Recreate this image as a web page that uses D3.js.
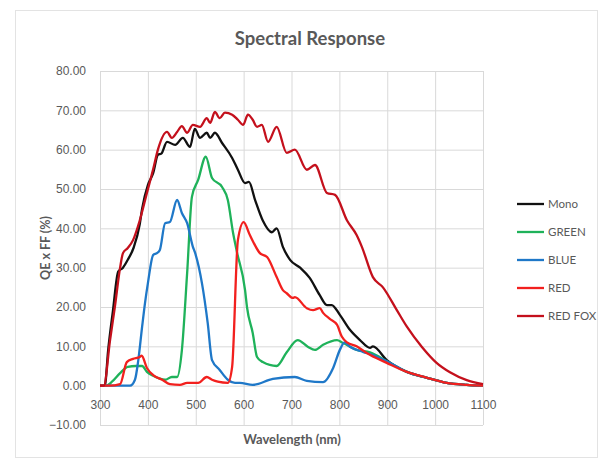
<!DOCTYPE html>
<html>
<head>
<meta charset="utf-8">
<script src="https://cdn.jsdelivr.net/npm/d3@7"></script>
<style>
  body { margin: 0; background: #fff; }
  svg { font-family: Lato, "Open Sans", sans-serif; }
</style>
</head>
<body>
<div class="chart"></div>
<script>
// Series data (wavelength nm / QE x FF %)
const monoNm = [300, 310, 317, 327, 338, 348, 358, 370, 383, 388, 400, 411, 421, 428, 440, 457, 473, 488, 498, 509, 523, 530, 540, 555, 576, 588, 603, 611, 624, 640, 659, 669, 682, 697, 718, 738, 759, 774, 784, 801, 822, 843, 864, 870, 899, 941, 983, 1024, 1066, 1100];
const monoQe = [0, 0, 9, 19, 29, 30, 32, 35, 41, 45, 51, 54, 58.7, 59, 62, 61.2, 63, 60.7, 65.3, 63, 64.3, 63, 64.3, 61.7, 57.9, 54.9, 51.5, 51.8, 47.2, 42, 39, 40, 35.3, 32, 30, 27.4, 23, 20.5, 20.5, 18, 14.2, 11.6, 9.6, 10, 6.5, 3.5, 2, 0.7, 0.2, 0];

const greenNm = [300, 312, 325, 342, 358, 375, 388, 398, 411, 436, 450, 461, 471, 482, 492, 505, 521, 534, 555, 567, 578, 586, 603, 607, 619, 628, 640, 669, 690, 713, 734, 749, 766, 795, 807, 836, 864, 905, 941, 983, 1024, 1066, 1100];
const greenQe = [0, 0, 1, 3.2, 4.8, 5, 5, 3.5, 2.5, 1.5, 2.2, 2.2, 9, 28.6, 48, 52.3, 58.2, 52.8, 50.5, 47.2, 38.8, 34, 24.3, 20, 13.4, 7.3, 6, 5, 8.5, 11.6, 9.9, 9.1, 10.4, 11.6, 10.9, 9.1, 8.5, 5.8, 3.5, 2, 0.7, 0.2, 0];

const blueNm = [300, 363, 373, 380, 388, 394, 400, 411, 419, 425, 436, 446, 461, 471, 482, 494, 498, 513, 525, 534, 550, 567, 582, 592, 619, 661, 707, 732, 766, 787, 801, 811, 822, 849, 870, 905, 941, 983, 1024, 1066, 1100];
const blueQe = [0, 0, 1.5, 6.5, 15, 21, 26, 33.2, 33.7, 34.5, 41.3, 41.6, 47.2, 43.9, 41.3, 35.3, 34, 26, 15.9, 6.5, 4, 1.5, 0.7, 0.7, 0.2, 1.7, 2.2, 1.2, 0.9, 4.5, 9.1, 11, 9.9, 8.6, 7.8, 5.8, 3.5, 2, 0.7, 0.2, 0];

const redNm = [300, 320, 342, 356, 369, 383, 387, 398, 411, 430, 446, 467, 482, 505, 523, 534, 546, 567, 576, 588, 600, 613, 634, 649, 669, 682, 690, 703, 707, 732, 745, 759, 766, 780, 795, 805, 816, 836, 857, 899, 941, 983, 1024, 1066, 1100];
const redQe = [0, 0, 0.4, 6, 6.8, 7.3, 7.6, 4.5, 2.7, 1.5, 0.4, 0.2, 0.7, 0.7, 2.2, 1.5, 1, 0.7, 4.8, 37, 41.6, 38.3, 33.7, 32.7, 27.6, 24.3, 23.5, 22.3, 22.5, 19.7, 19.2, 19.7, 18.5, 17, 15.5, 12.5, 11, 10, 8.3, 5.8, 3.5, 2, 0.7, 0.2, 0];

const redFoxNm = [300, 308, 321, 331, 342, 348, 358, 369, 383, 398, 411, 421, 440, 450, 461, 471, 482, 494, 509, 523, 530, 540, 550, 561, 576, 588, 599, 609, 619, 628, 638, 651, 669, 690, 707, 732, 749, 774, 791, 816, 836, 847, 870, 891, 920, 941, 972, 1003, 1031, 1066, 1100];
const redFoxQe = [0, 0, 11.6, 20, 30, 33.7, 35, 37, 42, 49, 55, 60, 64.5, 63, 64.5, 66, 64.3, 66.3, 65.8, 68, 66.8, 69.6, 68, 69.4, 68.9, 67.6, 66.3, 68.9, 67.6, 65.8, 66.3, 62, 65.8, 59.2, 60, 54.9, 56.1, 49, 48.5, 42, 38.3, 35.3, 27.6, 25, 19.2, 15, 9.9, 5.8, 3.4, 1.4, 0.4];

const seriesNames = ['Mono', 'GREEN', 'BLUE', 'RED', 'RED FOX'];
const seriesColors = ['#111111', '#1fb25a', '#1f78c8', '#f2201e', '#c4101c'];
const seriesNm = [monoNm, greenNm, blueNm, redNm, redFoxNm];
const seriesQe = [monoQe, greenQe, blueQe, redQe, redFoxQe];

const xTicks = [300, 400, 500, 600, 700, 800, 900, 1000, 1100];
const yTicks = [-10, 0, 10, 20, 30, 40, 50, 60, 70, 80];

const W = 598, H = 459;
const plot = {left: 100, right: 483, top: 71, bottom: 425};
const textColor = '#595959';
const gridColor = '#d9d9d9';

const svg = d3.select('.chart')
    .append('svg')
        .attr('width', W)
        .attr('height', H);

// Chart frame
svg.append('rect')
    .attr('x', 15.5).attr('y', 10.5)
    .attr('width', W - 16).attr('height', H - 12)
    .attr('fill', 'none')
    .attr('stroke', '#e3e3e3');

const xScale = d3.scaleLinear()
                .domain([300, 1100])
                .range([plot.left, plot.right]);
const yScale = d3.scaleLinear()
                .domain([-10, 80])
                .range([plot.bottom, plot.top]);

// Vertical grid
svg.append('g')
    .attr('transform', `translate(0, ${plot.bottom})`)
    .call(d3.axisBottom(xScale).tickValues(xTicks).tickSize(-(plot.bottom - plot.top)).tickFormat(''))
    .call(g => g.select('.domain').remove())
    .selectAll('line')
        .attr('stroke', gridColor);

// Horizontal grid + y labels
svg.append('g')
    .attr('transform', `translate(${plot.left}, 0)`)
    .call(d3.axisLeft(yScale).tickValues(yTicks).tickSize(-(plot.right - plot.left)).tickPadding(14).tickFormat(d3.format('.2f')))
    .call(g => g.select('.domain').remove())
    .call(g => g.selectAll('line').attr('stroke', gridColor))
    .selectAll('text')
        .attr('fill', textColor)
        .style('font-size', '12px');

// x labels sit under the zero line
svg.append('g')
    .attr('transform', `translate(0, ${yScale(0)})`)
    .call(d3.axisBottom(xScale).tickValues(xTicks).tickSize(0).tickPadding(15).tickFormat(d3.format('d')))
    .call(g => g.select('.domain').remove())
    .selectAll('text')
        .attr('fill', textColor)
        .style('font-size', '12px');

// Lines
const line = d3.line()
    .x(d => xScale(d[0]))
    .y(d => yScale(d[1]))
    .curve(d3.curveMonotoneX);

seriesNames.forEach((name, i) => {
    const pts = seriesNm[i].map((nm, j) => [nm, seriesQe[i][j]]);
    svg.append('path')
        .datum(pts)
        .attr('fill', 'none')
        .attr('stroke', seriesColors[i])
        .attr('stroke-width', 2.3)
        .attr('stroke-linejoin', 'round')
        .attr('d', line);
});

// Legend
const legend = svg.append('g').attr('transform', 'translate(517, 204)');
seriesNames.forEach((name, i) => {
    const row = legend.append('g').attr('transform', `translate(0, ${i * 28})`);
    row.append('line')
        .attr('x1', 0).attr('x2', 27)
        .attr('stroke', seriesColors[i])
        .attr('stroke-width', 2.3);
    row.append('text')
        .attr('x', 31)
        .attr('dy', '0.35em')
        .attr('fill', textColor)
        .style('font-size', '11.5px')
        .text(name);
});

// Titles
svg.append('text')
    .attr('x', 310).attr('y', 45)
    .attr('text-anchor', 'middle')
    .attr('fill', textColor)
    .style('font-size', '18.5px')
    .style('font-weight', 'bold')
    .text('Spectral Response');
svg.append('text')
    .attr('transform', `translate(50, ${(plot.top + plot.bottom) / 2}) rotate(-90)`)
    .attr('text-anchor', 'middle')
    .attr('fill', textColor)
    .style('font-size', '12.5px')
    .style('font-weight', 'bold')
    .text('QE x FF (%)');
svg.append('text')
    .attr('x', 292).attr('y', 444)
    .attr('text-anchor', 'middle')
    .attr('fill', textColor)
    .style('font-size', '13px')
    .style('font-weight', 'bold')
    .text('Wavelength (nm)');
</script>
</body>
</html>
